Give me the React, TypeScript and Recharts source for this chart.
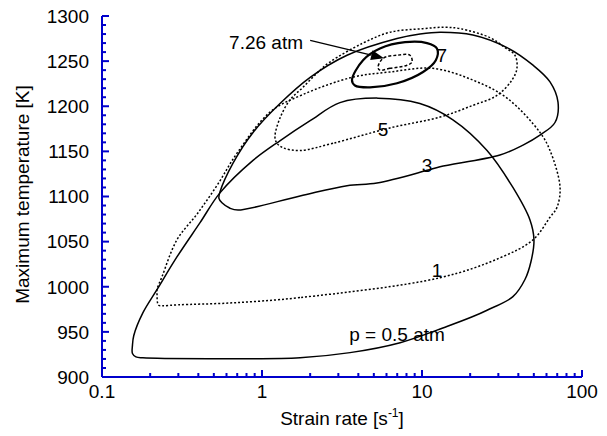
import React from 'react'
import { ScatterChart, Scatter, XAxis, YAxis, ReferenceDot, ReferenceLine } from 'recharts'

// axis ticks
const strainTicks = [0.1, 0.2, 0.3, 0.4, 0.5, 0.6, 0.7, 0.8, 0.9, 1, 2, 3, 4, 5, 6, 7, 8, 9, 10, 20, 30, 40, 50, 60, 70, 80, 90, 100]
const strainLabels = [0.1, 1, 10, 100]
const tempTicks = Array.from({ length: 41 }, (_, i) => 900 + i * 10)
const tempLabels = [900, 950, 1000, 1050, 1100, 1150, 1200, 1250, 1300]

// [strain rate, max temperature] along each closed response curve
const p05: [number, number][] = [
  [1.73, 921.4], [0.63, 920.3], [0.18, 921.2], [0.163, 922.3], [0.155, 926], [0.155, 935], [0.158, 946],
  [0.18, 971], [0.221, 997], [0.294, 1033], [0.41, 1071], [0.546, 1104], [0.879, 1140],
  [1.3, 1162], [2.0, 1184], [3.07, 1204], [5.3, 1209], [9.7, 1203], [15.6, 1185],
  [25.5, 1151], [37, 1110], [47.3, 1074], [50.1, 1052], [48, 1028], [44, 1008], [37, 989],
  [25.5, 974], [20.8, 967], [14.3, 956], [7.3, 938], [3.55, 927],
]
const p1: [number, number][] = [
  [1.728, 988], [0.631, 982], [0.3, 980], [0.24, 979], [0.226, 979.5], [0.222, 983], [0.221, 990],
  [0.221, 997], [0.237, 1011], [0.294, 1052], [0.393, 1080.6], [0.531, 1114], [0.698, 1148],
  [1.122, 1193.5], [1.803, 1213], [3.65, 1232], [6.31, 1238], [11.7, 1242], [20.8, 1229],
  [34, 1209], [54.6, 1171], [63.1, 1151], [72.9, 1110.5], [69.8, 1088], [63.1, 1077],
  [49.4, 1052], [30.7, 1032], [12.96, 1010],
]
const p3: [number, number][] = [
  [1.728, 1100.6], [0.708, 1085], [0.631, 1087], [0.562, 1093], [0.538, 1098], [0.546, 1105],
  [0.659, 1137], [0.879, 1171], [1.296, 1203], [2.0, 1232], [3.4, 1256.5], [6.98, 1275],
  [9.72, 1280], [12.96, 1282], [20.8, 1279], [34, 1265], [49.4, 1245.5], [63.1, 1227],
  [70.8, 1204.5], [67.8, 1182], [54.6, 1168], [42.8, 1157], [30.7, 1146], [12.96, 1133],
  [10.75, 1129], [5.23, 1115], [3.4, 1112],
]
const p5: [number, number][] = [
  [2.78, 1159], [1.728, 1151], [1.352, 1154], [1.241, 1159], [1.205, 1166], [1.296, 1187],
  [1.496, 1207], [1.803, 1221], [2.2, 1236.5], [2.66, 1249], [4.28, 1270], [6.31, 1282],
  [10.15, 1286], [13.9, 1287.5], [17.3, 1286], [26.6, 1276], [33, 1265], [38.1, 1256.5],
  [39.2, 1242], [36.5, 1229], [29.4, 1212], [20.8, 1201], [12.96, 1188], [6.31, 1176],
]
const p7: [number, number][] = [
  [3.65, 1229], [4.28, 1251], [5.46, 1264], [7.83, 1271], [10.75, 1270], [12.4, 1264],
  [12.2, 1251], [10.15, 1238], [6.98, 1225.5], [4.73, 1221], [3.81, 1223],
]
const p726: [number, number][] = [
  [6.31, 1242], [5.46, 1240], [5.31, 1243], [5.7, 1253], [6.98, 1256.5], [8.41, 1256.5],
  [8.66, 1249], [8.06, 1245.5],
]

const curveLabels = [
  { text: '7.26 atm', x: 1.06, y: 1271 },
  { text: '7', x: 13.3, y: 1256.5 },
  { text: '5', x: 5.7, y: 1174.6 },
  { text: '3', x: 10.75, y: 1135 },
  { text: '1', x: 12.4, y: 1018.7 },
  { text: 'p = 0.5 atm', x: 6.98, y: 947.9 },
]
const arrowFrom = { x: 2.0, y: 1273 }
const arrowTo = { x: 5.79, y: 1253.2 }

const BLUE = '#0000cc'
const FONT = 19

const toPts = (a: [number, number][]) => a.map(([x, y]) => ({ x, y }))
const noDot = () => <g />

// closed centripetal Catmull-Rom through the scaled points
function closedCurve(pts: { x: number; y: number }[]) {
  const n = pts.length
  if (n < 3) return ''
  const at = (i: number) => pts[(i + n) % n]
  let d = `M${pts[0].x},${pts[0].y}`
  for (let i = 0; i < n; i++) {
    const p0 = at(i - 1), p1 = at(i), p2 = at(i + 1), p3 = at(i + 2)
    const l01 = Math.sqrt(Math.hypot(p1.x - p0.x, p1.y - p0.y))
    const l12 = Math.sqrt(Math.hypot(p2.x - p1.x, p2.y - p1.y))
    const l23 = Math.sqrt(Math.hypot(p3.x - p2.x, p3.y - p2.y))
    let c1x = p1.x, c1y = p1.y, c2x = p2.x, c2y = p2.y
    if (l01 > 1e-6) {
      const a = 2 * l01 * l01 + 3 * l01 * l12 + l12 * l12
      const m = 3 * l01 * (l01 + l12)
      c1x = (p1.x * a - p0.x * l12 * l12 + p2.x * l01 * l01) / m
      c1y = (p1.y * a - p0.y * l12 * l12 + p2.y * l01 * l01) / m
    }
    if (l23 > 1e-6) {
      const b = 2 * l23 * l23 + 3 * l23 * l12 + l12 * l12
      const m = 3 * l23 * (l23 + l12)
      c2x = (p2.x * b + p1.x * l23 * l23 - p3.x * l12 * l12) / m
      c2y = (p2.y * b + p1.y * l23 * l23 - p3.y * l12 * l12) / m
    }
    d += ` C${c1x},${c1y} ${c2x},${c2y} ${p2.x},${p2.y}`
  }
  return d + 'Z'
}

const loopLine = (w: number, dash?: string) => (props: any) => (
  <path d={closedCurve(props.points)} fill="none" stroke="#000" strokeWidth={w} strokeDasharray={dash} />
)

const BottomTick = (props: any) => {
  const { x, y, payload } = props
  const major = strainLabels.includes(payload.value)
  return (
    <g>
      <line x1={x} y1={y} x2={x} y2={y - (major ? 7 : 4)} stroke={BLUE} strokeWidth={2} />
      {major && <text x={x} y={y + 21} textAnchor="middle" fontSize={FONT} fill="#000">{String(payload.value)}</text>}
    </g>
  )
}
const TopTick = (props: any) => {
  const { x, y, payload } = props
  const major = strainLabels.includes(payload.value)
  return <line x1={x} y1={y} x2={x} y2={y + (major ? 7 : 4)} stroke={BLUE} strokeWidth={2} />
}
const LeftTick = (props: any) => {
  const { x, y, payload } = props
  const major = tempLabels.includes(payload.value)
  return (
    <g>
      <line x1={x} y1={y} x2={x + (major ? 7 : 4)} y2={y} stroke={BLUE} strokeWidth={2} />
      {major && <text x={x - 13} y={y} dy="0.36em" textAnchor="end" fontSize={FONT} fill="#000">{payload.value}</text>}
    </g>
  )
}
const RightTick = (props: any) => {
  const { x, y, payload } = props
  const major = tempLabels.includes(payload.value)
  return <line x1={x} y1={y} x2={x - (major ? 7 : 4)} y2={y} stroke={BLUE} strokeWidth={2} />
}

const XTitle = (props: any) => {
  const { x, width, y } = props.viewBox
  return (
    <text x={x + width / 2} y={y + 48} textAnchor="middle" fontSize={FONT} fill="#000">
      Strain rate [s<tspan fontSize={12} dy={-8}>-1</tspan><tspan dy={8}>]</tspan>
    </text>
  )
}
const YTitle = (props: any) => {
  const { y, height } = props.viewBox
  const cx = 29
  const cy = y + height / 2 - 2
  return (
    <text x={cx} y={cy} transform={`rotate(-90, ${cx}, ${cy})`} textAnchor="middle" fontSize={FONT} fill="#000">
      Maximum temperature [K]
    </text>
  )
}

const Arrow = (props: any) => {
  const { x1, y1, x2, y2 } = props
  const a = Math.atan2(y2 - y1, x2 - x1)
  const L = 13
  const W = 5
  const bx = x2 - L * Math.cos(a)
  const by = y2 - L * Math.sin(a)
  const pts = `${x2},${y2} ${bx + W * Math.sin(a)},${by - W * Math.cos(a)} ${bx - W * Math.sin(a)},${by + W * Math.cos(a)}`
  return (
    <g>
      <line x1={x1} y1={y1} x2={bx} y2={by} stroke="#000" strokeWidth={1.3} />
      <polygon points={pts} fill="#000" />
    </g>
  )
}

const curves = [
  { data: p05, dash: undefined, w: 1.5 },
  { data: p1, dash: '2 2', w: 1.5 },
  { data: p3, dash: undefined, w: 1.5 },
  { data: p5, dash: '2 2', w: 1.5 },
  { data: p7, dash: undefined, w: 2.2 },
  { data: p726, dash: '3 2', w: 1.5 },
]

export default function App() {
  return (
    <div style={{ position: 'absolute', left: 0, top: 0, fontFamily: '"Liberation Sans", Arial, sans-serif', background: '#fff' }}>
      <ScatterChart width={607} height={436} margin={{ top: 16, right: 25, bottom: 0, left: 0 }}>
        <XAxis
          dataKey="x" type="number" scale="log" domain={[0.1, 100]} allowDataOverflow
          ticks={strainTicks} interval={0} height={59} tickSize={0} tickMargin={0} tickLine={false}
          tick={BottomTick} axisLine={{ stroke: BLUE, strokeWidth: 2 }}
          label={XTitle}
        />
        <XAxis
          xAxisId="top" orientation="top" dataKey="x" type="number" scale="log" domain={[0.1, 100]} allowDataOverflow
          ticks={strainTicks} interval={0} height={0} tickSize={0} tickMargin={0} tickLine={false}
          tick={TopTick} axisLine={{ stroke: BLUE, strokeWidth: 2 }}
        />
        <YAxis
          dataKey="y" type="number" domain={[900, 1300]} allowDataOverflow
          ticks={tempTicks} interval={0} width={102} tickSize={0} tickMargin={0} tickLine={false}
          tick={LeftTick} axisLine={{ stroke: BLUE, strokeWidth: 2 }}
          label={YTitle}
        />
        <YAxis
          yAxisId="right" orientation="right" dataKey="y" type="number" domain={[900, 1300]} allowDataOverflow
          ticks={tempTicks} interval={0} width={0} tickSize={0} tickMargin={0} tickLine={false}
          tick={RightTick} axisLine={{ stroke: BLUE, strokeWidth: 2 }}
        />
        {curves.map((c, i) => (
          <Scatter
            key={i}
            data={toPts(c.data)}
            fill="#000"
            line={loopLine(c.w, c.dash)}
            shape={noDot}
            isAnimationActive={false}
          />
        ))}
        <ReferenceLine segment={[arrowFrom, arrowTo]} shape={Arrow} />
        {curveLabels.map((l) => (
          <ReferenceDot
            key={l.text} x={l.x} y={l.y} r={0} fill="none" stroke="none"
            label={{ value: l.text, position: 'center', fontSize: FONT, fill: '#000' }}
          />
        ))}
      </ScatterChart>
    </div>
  )
}
